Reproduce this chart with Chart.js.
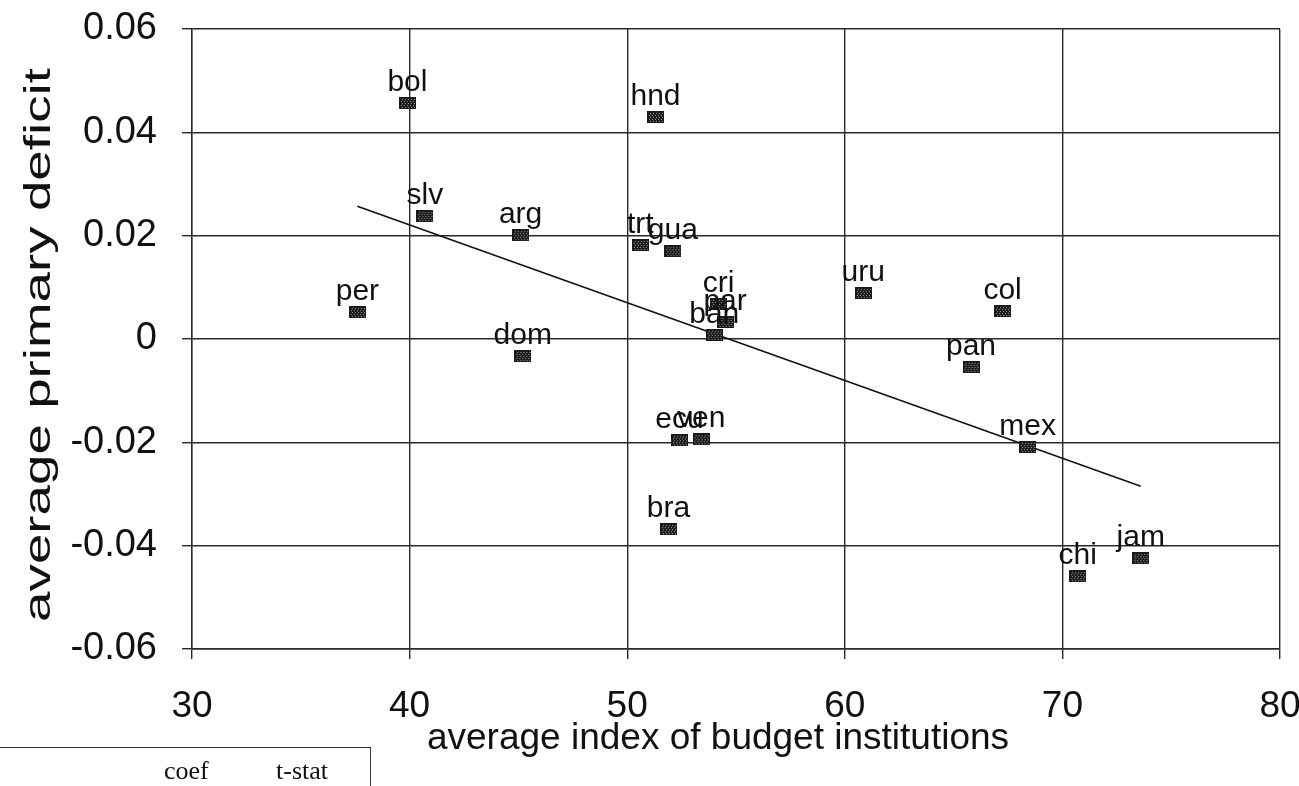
<!DOCTYPE html>
<html>
<head>
<meta charset="utf-8">
<script src="https://cdn.jsdelivr.net/npm/chart.js@4"></script>
<style>
  body { margin: 0; background: #fff; }
  #wrap { position: relative; width: 1299px; height: 786px; overflow: hidden; }
  #chart { position: absolute; left: 0; top: 0; }
  #tbl { position: absolute; left: 0; top: 747px; width: 370px; height: 60px;
         border-top: 1.5px solid #333; border-right: 1.5px solid #333;
         font-family: "Liberation Serif", serif; font-size: 26px; color: #111; }
  #tbl span { position: absolute; top: 8px; }
</style>
</head>
<body>
<div id="wrap">
  <canvas id="chart" width="1299" height="786"></canvas>
  <div id="tbl"><span style="left:164px">coef</span><span style="left:276px">t-stat</span></div>
</div>
<script>
// countries and their values
var countries = ['bol', 'hnd', 'slv', 'arg', 'trt', 'gua', 'per', 'dom', 'cri', 'par',
  'ban', 'ecu', 'ven', 'bra', 'uru', 'col', 'pan', 'mex', 'chi', 'jam'];
var budgetIndex = [39.9, 51.3, 40.7, 45.1, 50.6, 52.1, 37.6, 45.2, 54.2, 54.5,
  54.0, 52.4, 53.4, 51.9, 60.85, 67.25, 65.8, 68.4, 70.7, 73.6];
var primaryDeficit = [0.0457, 0.043, 0.0238, 0.0201, 0.0182, 0.0170, 0.0052, -0.0033, 0.0068, 0.0033,
  0.0008, -0.0196, -0.0194, -0.0368, 0.0089, 0.0054, -0.0054, -0.0209, -0.0459, -0.0424];

// fitted line end points
var fitX = [37.6, 73.6];
var fitY = [0.0257, -0.0285];

// ticks
var xTickValues = [30, 40, 50, 60, 70, 80];
var yTickValues = [-0.06, -0.04, -0.02, 0, 0.02, 0.04, 0.06];
var yTickLabels = ['-0.06', '-0.04', '-0.02', '0', '0.02', '0.04', '0.06'];
var xTitle = 'average index of budget institutions';
var yTitle = 'average primary deficit';

// stippled marker
var marker = document.createElement('canvas');
marker.width = 17; marker.height = 12;
var mc = marker.getContext('2d');
mc.fillStyle = '#1a1a1a';
mc.fillRect(0, 0, 17, 12);
mc.fillStyle = '#a0a0a0';
for (var yy = 2; yy < 11; yy += 2) {
  for (var xx = 2 + (yy % 4 ? 1 : 0); xx < 16; xx += 3) {
    mc.fillRect(xx, yy, 1, 1);
  }
}

var points = budgetIndex.map(function (v, i) { return { x: v, y: primaryDeficit[i] }; });
var fitPoints = fitX.map(function (v, i) { return { x: v, y: fitY[i] }; });

var font = '"Liberation Sans", Arial, sans-serif';

var pointLabels = {
  id: 'pointLabels',
  afterDatasetsDraw: function (chart) {
    var ctx = chart.ctx;
    var meta = chart.getDatasetMeta(0);
    ctx.save();
    ctx.font = '30px ' + font;
    ctx.fillStyle = '#111';
    ctx.textAlign = 'center';
    ctx.textBaseline = 'alphabetic';
    meta.data.forEach(function (el, i) {
      ctx.fillText(countries[i], el.x, el.y - 12);
    });
    ctx.restore();
  }
};

// axis titles: the y one is drawn long and narrow in the picture, so stretch it
var axisTitles = {
  id: 'axisTitles',
  afterDraw: function (chart) {
    var ctx = chart.ctx;
    var area = chart.chartArea;
    ctx.save();
    ctx.font = '37px ' + font;
    ctx.fillStyle = '#111';
    ctx.textAlign = 'center';
    ctx.textBaseline = 'alphabetic';
    ctx.fillText(xTitle, (area.left + area.right) / 2 - 18, 749);
    ctx.translate(40, (area.top + area.bottom) / 2 + 6);
    ctx.rotate(-Math.PI / 2);
    ctx.scale(1.48, 1);
    ctx.textBaseline = 'middle';
    ctx.fillText(yTitle, 0, 0);
    ctx.restore();
  }
};

var gridColor = '#2a2a2a';
var ctx = document.getElementById('chart').getContext('2d');
var myChart = new Chart(ctx, {
  type: 'scatter',
  data: {
    datasets: [{
      label: 'countries',
      data: points,
      pointStyle: marker,
      order: 0
    }, {
      type: 'line',
      label: 'fit',
      data: fitPoints,
      borderColor: '#111',
      borderWidth: 1.6,
      pointRadius: 0,
      fill: false,
      order: 1
    }]
  },
  options: {
    responsive: false,
    animation: false,
    layout: { padding: { top: 29, right: 19, left: 0, bottom: 0 } },
    plugins: { legend: { display: false }, tooltip: { enabled: false } },
    scales: {
      x: {
        type: 'linear',
        min: 30, max: 80,
        afterBuildTicks: function (s) { s.ticks = xTickValues.map(function (v) { return { value: v }; }); },
        afterFit: function (s) { s.height = 137; s.paddingLeft = 0; s.paddingRight = 0; },
        grid: { color: gridColor, lineWidth: 1.4, tickLength: 10, tickColor: gridColor },
        border: { color: gridColor, width: 1.4 },
        ticks: {
          padding: 26,
          color: '#111',
          font: { family: font, size: 37 },
          maxRotation: 0
        }
      },
      y: {
        min: -0.06, max: 0.06,
        afterBuildTicks: function (s) { s.ticks = yTickValues.map(function (v) { return { value: v }; }); },
        afterFit: function (s) { s.width = 192; s.paddingTop = 0; s.paddingBottom = 0; },
        grid: { color: gridColor, lineWidth: 1.4, tickLength: 10, tickColor: gridColor },
        border: { color: gridColor, width: 1.4 },
        ticks: {
          padding: 25,
          color: '#111',
          font: { family: font, size: 38 },
          callback: function (v, i) { return yTickLabels[i]; }
        }
      }
    }
  },
  plugins: [pointLabels, axisTitles]
});
</script>
</body>
</html>
